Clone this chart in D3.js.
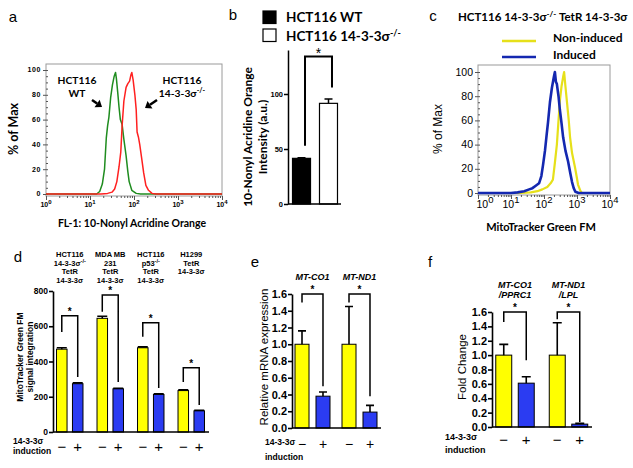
<!DOCTYPE html>
<html>
<head>
<meta charset="utf-8">
<script src="https://cdn.jsdelivr.net/npm/d3@7"></script>
<style>
  body { margin: 0; background: #fff; }
  svg { display: block; }
</style>
</head>
<body>
<script>
// ---- panel a: flow histograms, [log10 intensity, % of max]
var histDecades = [0, 1, 2, 3, 4];
var histPct = [0, 20, 40, 60, 80, 100];
var wtCurve = [[0,0],[1.15,0],[1.22,2],[1.28,8],[1.33,20],[1.37,45],[1.4,55],[1.43,62],[1.47,78],[1.51,88],[1.55,95],[1.58,98],[1.6,93],[1.63,82],[1.66,70],[1.69,60],[1.73,56],[1.77,44],[1.82,31],[1.86,18],[1.89,10],[1.95,3],[2.05,0.5],[2.15,0],[4,0]];
var koCurve = [[0,0],[1.25,0],[1.4,0.5],[1.5,1.5],[1.56,4],[1.61,10],[1.66,22],[1.7,34],[1.73,55],[1.77,75],[1.82,86],[1.86,89],[1.9,91],[1.93,96],[1.95,98],[1.98,92],[2.02,80],[2.05,68],[2.07,50],[2.1,46],[2.13,40],[2.17,30],[2.22,17],[2.27,7],[2.33,3],[2.41,0.5],[2.5,0],[4,0]];
var aNames = [['HCT116', 'WT'], ['HCT116', '14-3-3σ{-/-}']];

// ---- panel b
var bLabels = ['HCT116 WT', 'HCT116 14-3-3σ{-/-}'];
var bMeans = [41.5, 91.5];
var bErrs = [0.6, 4];
var bTicks = [0, 50, 100];
var bSig = {top: 134, left: 53, right: 106};

// ---- panel c
var cTitle = 'HCT116 14-3-3σ{-/-} TetR 14-3-3σ';
var cLegend = ['Non-induced', 'Induced'];
var nonInduced = [[0,0],[1.3,0],[1.6,0.5],[1.8,1.5],[1.95,3],[2.1,5],[2.2,8],[2.27,11],[2.33,25],[2.39,40],[2.44,60],[2.48,76],[2.53,88],[2.58,96],[2.61,100],[2.65,88],[2.7,74],[2.75,60],[2.79,46],[2.85,33],[2.94,21],[3.0,12],[3.03,7],[3.1,2],[3.15,0],[4,0]];
var induced = [[0,0],[1.0,0],[1.2,0.5],[1.4,1.5],[1.55,3],[1.65,4],[1.75,6],[1.85,8],[1.92,14],[1.97,23],[2.03,35],[2.08,48],[2.12,58],[2.18,75],[2.24,87],[2.3,96],[2.33,100],[2.36,92],[2.39,90],[2.44,80],[2.48,69],[2.53,58],[2.58,46],[2.65,35],[2.73,26],[2.8,16],[2.85,9],[2.9,4],[2.95,1],[3.05,0],[4,0]];

// ---- panel d
var dHeaders = [['HCT116', '14-3-3σ{-/-}', 'TetR', '14-3-3σ'], ['MDA MB', '231', 'TetR', '14-3-3σ'], ['HCT116', 'p53{-/-}', 'TetR', '14-3-3σ'], ['H1299', 'TetR', '14-3-3σ']];
var dMinus = [470, 645, 478, 235];
var dMinusErr = [8, 12, 5, 4];
var dPlus = [274, 245, 213, 120];
var dPlusErr = [5, 3, 4, 3];
var dSigTop = [660, 778, 620, 364];
var dSigLeft = [568, 682, 540, 284];
var dSigRight = [312, 284, 250, 153];
var dTicks = [0, 200, 400, 600, 800];

// ---- panel e
var eGenes = [['MT-CO1'], ['MT-ND1']];
var eMinus = [1.0, 1.0];
var eMinusErr = [0.16, 0.45];
var ePlus = [0.38, 0.19];
var ePlusErr = [0.05, 0.08];
var eSigTop = [1.6, 1.6];
var eSigLeft = [1.5, 1.5];
var eSigRight = [0.5, 0.38];

// ---- panel f
var fGenes = [['MT-CO1', '/PPRC1'], ['MT-ND1', '/LPL']];
var fMinus = [1.0, 1.0];
var fMinusErr = [0.15, 0.45];
var fPlus = [0.61, 0.04];
var fPlusErr = [0.09, 0.01];
var fSigTop = [1.6, 1.6];
var fSigLeft = [1.46, 1.5];
var fSigRight = [0.93, 0.07];
var foldTicks = [0, 0.2, 0.4, 0.6, 0.8, 1.0, 1.2, 1.4, 1.6];

var ARIAL = '"Liberation Sans", Arial, sans-serif';
var CALIBRI = 'Lato, "Open Sans", sans-serif';
var YELLOW = '#ffff00', BLUE = '#2b3cf2';

var svg = d3.select('body').append('svg')
  .attr('width', 633)
  .attr('height', 468)
  .style('font-family', ARIAL);

// text with {superscript} parts
function richText(sel, str, supSize, shift) {
  var parts = str.split(/(\{[^}]*\})/).filter(function(s) { return s.length; });
  var up = false;
  parts.forEach(function(p) {
    if (p[0] == '{') {
      sel.append('tspan').attr('dy', -shift).attr('font-size', supSize).text(p.slice(1, -1));
      up = true;
    } else {
      sel.append('tspan').attr('dy', up ? shift : null).text(p);
      up = false;
    }
  });
  return sel;
}

function rotLabel(g, lines, xs, cy, size, weight, family) {
  lines.forEach(function(l, i) {
    g.append('text')
      .attr('transform', 'translate(' + xs[i] + ',' + cy + ') rotate(-90)')
      .attr('dy', '0.35em')
      .attr('text-anchor', 'middle')
      .attr('font-size', size)
      .attr('font-weight', weight)
      .attr('font-family', family || ARIAL)
      .text(l);
  });
}

// panel letters
[['a', 13, 22], ['b', 233, 20], ['c', 433, 21], ['d', 18, 262], ['e', 255, 267], ['f', 430, 267]]
  .forEach(function(p) {
    svg.append('text').attr('x', p[1]).attr('y', p[2]).attr('text-anchor', 'middle')
      .attr('font-size', 15).text(p[0]);
  });

function histPanel(o) {
  var g = svg.append('g');
  var x = d3.scaleLinear().domain([0, 4]).range(o.xRange);
  var y = d3.scaleLinear().domain([0, 100]).range(o.yRange);

  g.append('rect')
    .attr('x', o.xRange[0]).attr('y', o.frameTop)
    .attr('width', o.xRange[1] - o.xRange[0])
    .attr('height', o.frameBottom - o.frameTop)
    .attr('fill', 'none').attr('stroke', '#9a9a9a');

  var minor = [];
  for (var k = 0; k < 4; k++) {
    for (var m = 2; m < 10; m++) minor.push(k + Math.log10(m));
  }
  var bottom = g.append('g').attr('transform', 'translate(0,' + o.frameBottom + ')');
  bottom.append('g').call(d3.axisBottom(x).tickValues(minor).tickSize(2).tickFormat(''));
  bottom.append('g').call(d3.axisBottom(x).tickValues(histDecades).tickSize(4).tickFormat(''));
  bottom.selectAll('.domain').remove();
  bottom.selectAll('line').attr('stroke', '#555');

  var yMinor = d3.range(0, 101, 5);
  var left = g.append('g').attr('transform', 'translate(' + o.xRange[0] + ',0)');
  left.append('g').call(d3.axisRight(y).tickValues(yMinor).tickSize(2).tickFormat(''));
  left.append('g').call(d3.axisLeft(y).tickValues(histPct).tickSize(3).tickFormat(''));
  left.selectAll('.domain').remove();
  left.selectAll('line').attr('stroke', '#555');

  g.selectAll(null).data(histPct).enter().append('text')
    .attr('x', o.xRange[0] - 5).attr('y', function(d) { return y(d); })
    .attr('dy', '0.35em').attr('text-anchor', 'end')
    .attr('font-size', o.tickSize).attr('font-weight', o.tickWeight)
    .attr('letter-spacing', o.tickSpacing)
    .text(function(d) { return d; });

  g.selectAll(null).data(histDecades).enter().append('text')
    .attr('x', function(d) { return x(d) + (d == 0 ? o.firstShift : 0); })
    .attr('y', o.xLabelY)
    .attr('text-anchor', 'middle')
    .attr('font-size', o.tickSize).attr('font-weight', o.tickWeight)
    .each(function(d) { richText(d3.select(this), '10{' + d + '}', o.tickSize - 1, o.supShift); });

  var line = d3.line().x(function(d) { return x(d[0]); }).y(function(d) { return y(d[1]); });
  o.curves.forEach(function(c) {
    g.append('path').datum(c.data)
      .attr('d', line).attr('fill', 'none')
      .attr('stroke', c.color).attr('stroke-width', c.width)
      .attr('stroke-linejoin', 'round');
  });
  return g;
}

// ---------- panel a
var ga = histPanel({
  xRange: [46, 222], yRange: [194, 70], frameTop: 64, frameBottom: 196,
  tickSize: 7, tickWeight: 'bold', tickSpacing: 0.6, xLabelY: 207, supShift: 3, firstShift: 0,
  curves: [{data: wtCurve, color: '#1f8c1f', width: 1.5}, {data: koCurve, color: '#ff2020', width: 1.5}]
});
rotLabel(ga, ['% of Max'], [14], 129, 12.5, 'bold', CALIBRI);
ga.append('text').attr('x', 132).attr('y', 227).attr('text-anchor', 'middle')
  .attr('font-family', CALIBRI).attr('font-weight', 'bold').attr('font-size', 10.5)
  .text('FL-1: 10-Nonyl Acridine Orange');

[[77, 92, 100, 102, 107], [182, 157, 100, 145, 108]].forEach(function(p, i) {
  aNames[i].forEach(function(s, j) {
    richText(ga.append('text').attr('x', p[0]).attr('y', 84 + j * 12.5)
      .attr('text-anchor', 'middle').attr('font-family', CALIBRI)
      .attr('font-weight', 'bold').attr('font-size', 10.3), s, 7, 3.5);
  });
  var ang = Math.atan2(p[4] - p[2], p[3] - p[1]);
  var hx = p[3], hy = p[4], L = 6, Wd = 4.5;
  var bx = hx - L * Math.cos(ang), by = hy - L * Math.sin(ang);
  ga.append('line').attr('x1', p[1]).attr('y1', p[2]).attr('x2', bx).attr('y2', by)
    .attr('stroke', '#000').attr('stroke-width', 2.5);
  ga.append('path')
    .attr('d', 'M' + hx + ',' + hy +
      'L' + (bx + Wd * Math.sin(ang)) + ',' + (by - Wd * Math.cos(ang)) +
      'L' + (bx - Wd * Math.sin(ang)) + ',' + (by + Wd * Math.cos(ang)) + 'Z')
    .attr('fill', '#000');
});

// ---------- panel c
var gc = histPanel({
  xRange: [478, 610], yRange: [193, 72], frameTop: 65, frameBottom: 195,
  tickSize: 10.5, tickWeight: 'normal', tickSpacing: 0, xLabelY: 208, supShift: 5, firstShift: 7,
  curves: [{data: nonInduced, color: '#e6e01a', width: 2.2}, {data: induced, color: '#1428b0', width: 2.6}]
});
rotLabel(gc, ['% of Max'], [438], 129, 12, 'normal');
gc.append('text').attr('x', 541).attr('y', 231).attr('text-anchor', 'middle')
  .attr('font-family', CALIBRI).attr('font-weight', 'bold').attr('font-size', 11)
  .text('MitoTracker Green FM');
richText(gc.append('text').attr('x', 458).attr('y', 21)
  .attr('font-family', CALIBRI).attr('font-weight', 'bold').attr('font-size', 11.5), cTitle, 8, 4);
[['#e6e01a', 41, 42], ['#1428b0', 57, 59]].forEach(function(p, i) {
  gc.append('line').attr('x1', 502).attr('x2', 536).attr('y1', p[1]).attr('y2', p[1])
    .attr('stroke', p[0]).attr('stroke-width', 2.6);
  gc.append('text').attr('x', 553).attr('y', p[2])
    .attr('font-family', CALIBRI).attr('font-weight', 'bold').attr('font-size', 12)
    .text(cLegend[i]);
});

// ---------- panel b
(function() {
  var g = svg.append('g');
  var x = d3.scaleBand().domain([0, 1]).range([288, 342]).paddingInner(0.333).paddingOuter(0.167);
  var y = d3.scaleLinear().domain([0, 140]).range([204, 50]);
  var fills = ['#000', '#fff'];

  g.selectAll(null).data(bMeans).enter().append('rect')
    .attr('x', function(d, i) { return x(i); })
    .attr('y', function(d) { return y(d); })
    .attr('width', x.bandwidth())
    .attr('height', function(d) { return y(0) - y(d); })
    .attr('fill', function(d, i) { return fills[i]; })
    .attr('stroke', '#000').attr('stroke-width', 1.2);
  g.selectAll(null).data(bMeans).enter().append('path')
    .attr('d', function(d, i) {
      var c = x(i) + x.bandwidth() / 2, t = y(d + bErrs[i]);
      return 'M' + c + ',' + y(d) + 'V' + t + 'M' + (c - 4) + ',' + t + 'H' + (c + 4);
    })
    .attr('stroke', '#000').attr('stroke-width', 1.5).attr('fill', 'none');

  var ya = g.append('g').attr('transform', 'translate(288,0)')
    .call(d3.axisLeft(y).tickValues(bTicks).tickSize(4).tickSizeOuter(0));
  ya.attr('font-family', null).attr('font-size', null);
  ya.select('.domain').attr('stroke-width', 1.5);
  ya.selectAll('.tick line').attr('stroke-width', 1.5);
  ya.selectAll('.tick text').attr('font-size', 7.5).attr('font-weight', 'bold').attr('x', -5);
  g.append('line').attr('x1', 288).attr('x2', 341).attr('y1', y(0)).attr('y2', y(0))
    .attr('stroke', '#000').attr('stroke-width', 1.5);

  var xl = x(0) + x.bandwidth() / 2 + 3.5, xr = x(1) + x.bandwidth() / 2 + 3.5;
  g.append('path')
    .attr('d', 'M' + xl + ',' + y(bSig.left) + 'V' + y(bSig.top) + 'H' + xr + 'V' + y(bSig.right))
    .attr('stroke', '#000').attr('stroke-width', 2).attr('fill', 'none');
  g.append('text').attr('x', (xl + xr) / 2).attr('y', y(bSig.top) + 1)
    .attr('text-anchor', 'middle').attr('font-size', 14).text('*');

  rotLabel(g, ['10-Nonyl Acridine Orange', 'Intensity (a.u.)'], [248, 263], 137, 12, 'bold', CALIBRI);

  // legend
  g.selectAll(null).data(bLabels).enter().append('rect')
    .attr('x', 263).attr('y', function(d, i) { return 11 + i * 18; })
    .attr('width', 13).attr('height', 12.5)
    .attr('fill', function(d, i) { return fills[i]; })
    .attr('stroke', '#000').attr('stroke-width', 1.2);
  g.selectAll(null).data(bLabels).enter().append('text')
    .attr('x', 286).attr('y', function(d, i) { return 22 + i * 19; })
    .attr('font-family', CALIBRI).attr('font-weight', 'bold').attr('font-size', 13.5)
    .each(function(d) { richText(d3.select(this), d, 9, 5); });
})();

// ---------- bar panels d, e, f
function barPanel(o) {
  var g = svg.append('g');
  var n = o.minus.length;
  var x = d3.scaleBand().domain(d3.range(n)).range(o.groupRange);
  var xi = d3.scaleBand().domain(['-', '+']).range([0, x.bandwidth()])
    .paddingInner(o.padIn).paddingOuter(o.padOut);
  var y = d3.scaleLinear().domain(o.yDomain).range(o.yRange);
  var bw = xi.bandwidth();
  function cx(i, k) { return x(i) + xi(k) + bw / 2; }

  var series = [
    {key: '-', vals: o.minus, errs: o.minusErr, fill: YELLOW},
    {key: '+', vals: o.plus, errs: o.plusErr, fill: BLUE}
  ];
  series.forEach(function(s) {
    g.selectAll(null).data(s.vals).enter().append('rect')
      .attr('x', function(d, i) { return x(i) + xi(s.key); })
      .attr('y', function(d) { return y(d); })
      .attr('width', bw)
      .attr('height', function(d) { return y(0) - y(d); })
      .attr('fill', s.fill).attr('stroke', '#000').attr('stroke-width', 1);
    g.selectAll(null).data(s.vals).enter().append('path')
      .attr('d', function(d, i) {
        var c = cx(i, s.key), t = y(d + s.errs[i]);
        return 'M' + c + ',' + y(d) + 'V' + t + 'M' + (c - o.cap / 2) + ',' + t + 'H' + (c + o.cap / 2);
      })
      .attr('stroke', '#000').attr('stroke-width', 1.6).attr('fill', 'none');
  });

  var ya = g.append('g').attr('transform', 'translate(' + o.axisX + ',0)')
    .call(d3.axisLeft(y).tickValues(o.ticks).tickSize(4).tickSizeOuter(0).tickFormat(o.fmt));
  ya.attr('font-family', null).attr('font-size', null);
  ya.select('.domain').attr('stroke-width', 1.6);
  ya.selectAll('.tick line').attr('stroke-width', 1.6);
  ya.selectAll('.tick text').attr('font-size', o.tickFont).attr('font-weight', 'bold').attr('x', -5);
  g.append('line').attr('x1', o.axisX).attr('x2', o.xEnd).attr('y1', y(0)).attr('y2', y(0))
    .attr('stroke', '#000').attr('stroke-width', 1.6);

  // significance brackets
  g.selectAll(null).data(o.sigTop).enter().append('path')
    .attr('d', function(t, i) {
      return 'M' + cx(i, '-') + ',' + y(o.sigLeft[i]) + 'V' + y(t) + 'H' + cx(i, '+') + 'V' + y(o.sigRight[i]);
    })
    .attr('stroke', '#000').attr('stroke-width', 1.5).attr('fill', 'none');
  g.selectAll(null).data(o.sigTop).enter().append('text')
    .attr('x', function(t, i) { return (cx(i, '-') + cx(i, '+')) / 2; })
    .attr('y', function(t) { return y(t) - o.starGap; })
    .attr('text-anchor', 'middle').attr('font-size', 10).attr('font-weight', 'bold').text('*');

  // headers above groups
  o.headers.forEach(function(lines, i) {
    lines.forEach(function(l, j) {
      var t = g.append('text')
        .attr('x', x(i) + x.bandwidth() / 2)
        .attr('y', o.headerY + j * o.headerStep)
        .attr('text-anchor', 'middle').attr('font-size', o.headerFont)
        .attr('font-weight', 'bold').attr('font-style', o.headerStyle);
      richText(t, l, o.headerFont - 2, 2.5);
    });
  });

  // -/+ row
  series.forEach(function(s) {
    g.selectAll(null).data(s.vals).enter().append('text')
      .attr('x', function(d, i) { return cx(i, s.key); })
      .attr('y', o.pmY).attr('text-anchor', 'middle').attr('font-size', o.pmFont)
      .text(s.key == '-' ? '\u2212' : '+');
  });
  ['14-3-3σ', 'induction'].forEach(function(l, j) {
    g.append('text').attr('x', o.indX).attr('y', o.indY + j * o.indStep)
      .attr('font-size', o.indFont).attr('font-weight', 'bold').text(l);
  });

  rotLabel(g, o.yLabel, o.yLabelX, o.yLabelY, o.yLabelFont, o.yLabelWeight);
  return g;
}

barPanel({
  minus: dMinus, minusErr: dMinusErr, plus: dPlus, plusErr: dPlusErr,
  sigTop: dSigTop, sigLeft: dSigLeft, sigRight: dSigRight,
  groupRange: [49.5, 211.5], padIn: 0.34, padOut: 0.44,
  yDomain: [0, 800], yRange: [432, 291], ticks: dTicks, fmt: d3.format('d'), tickFont: 8.5,
  axisX: 53, xEnd: 209, cap: 10, starGap: 1,
  headers: dHeaders, headerY: 257, headerStep: 8.5, headerFont: 7.5, headerStyle: 'normal',
  pmY: 452, pmFont: 15, indX: 13, indY: 444, indStep: 10, indFont: 8.5,
  yLabel: ['MitoTracker Green FM', 'signal integration'], yLabelX: [20, 30], yLabelY: 357,
  yLabelFont: 8.5, yLabelWeight: 'bold'
});

barPanel({
  minus: eMinus, minusErr: eMinusErr, plus: ePlus, plusErr: ePlusErr,
  sigTop: eSigTop, sigLeft: eSigLeft, sigRight: eSigRight,
  groupRange: [289, 383], padIn: 0.333, padOut: 0.286,
  yDomain: [0, 1.6], yRange: [428, 294], ticks: foldTicks, fmt: d3.format('.1f'), tickFont: 11,
  axisX: 292, xEnd: 381, cap: 8, starGap: 1,
  headers: eGenes, headerY: 280, headerStep: 10, headerFont: 9, headerStyle: 'italic',
  pmY: 449, pmFont: 14, indX: 265, indY: 445, indStep: 15, indFont: 8.5,
  yLabel: ['Relative mRNA expression'], yLabelX: [264], yLabelY: 357,
  yLabelFont: 11.5, yLabelWeight: 'normal'
});

barPanel({
  minus: fMinus, minusErr: fMinusErr, plus: fPlus, plusErr: fPlusErr,
  sigTop: fSigTop, sigLeft: fSigLeft, sigRight: fSigRight,
  groupRange: [488.25, 595.25], padIn: 0.29, padOut: 0.334,
  yDomain: [0, 1.6], yRange: [427, 312], ticks: foldTicks, fmt: d3.format('.1f'), tickFont: 11,
  axisX: 492, xEnd: 592, cap: 9, starGap: 1,
  headers: fGenes, headerY: 288, headerStep: 10, headerFont: 9, headerStyle: 'italic',
  pmY: 445, pmFont: 15, indX: 445, indY: 440, indStep: 13, indFont: 9,
  yLabel: ['Fold Change'], yLabelX: [462], yLabelY: 367,
  yLabelFont: 11.5, yLabelWeight: 'normal'
});
</script>
</body>
</html>
